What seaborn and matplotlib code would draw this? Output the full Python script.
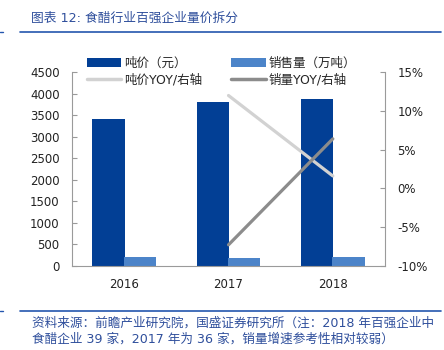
import numpy as np
import pandas as pd
import matplotlib
matplotlib.use("Agg")
import matplotlib.pyplot as plt
import seaborn as sns
from matplotlib.lines import Line2D
from matplotlib.patches import Patch
from matplotlib.ticker import FuncFormatter, FixedLocator

# ---------------- data ----------------
years = ["2016", "2017", "2018"]
price = [3413, 3802, 3872]          # 吨价（元）
volume = [197, 183, 194]            # 销售量（万吨）
price_yoy = [np.nan, 12.0, 1.6]     # 吨价YOY (%)
volume_yoy = [np.nan, -7.3, 6.4]    # 销量YOY (%)
left_ticks = [0, 500, 1000, 1500, 2000, 2500, 3000, 3500, 4000, 4500]
right_ticks = [-10, -5, 0, 5, 10, 15]
series_names = ["吨价（元）", "销售量（万吨）", "吨价YOY/右轴", "销量YOY/右轴"]
title_text = "图表 12: 食醋行业百强企业量价拆分"
source_lines = ["资料来源：前瞻产业研究院，国盛证券研究所（注：2018 年百强企业中",
                "食醋企业 39 家，2017 年为 36 家，销量增速参考性相对较弱）"]

# ---------------- style ----------------
c_price = "#023F95"
c_vol = "#4C84C9"
c_pyoy = "#D2D2D2"
c_vyoy = "#8C8C8C"
c_spine = "#9A9A9A"
c_blue_text = "#2F4F9C"
c_rule = "#2456AE"
fs = 8.5

sns.set_theme(style="white")
plt.rcParams["font.family"] = ["DejaVu Sans", "Noto Sans CJK SC"]

W, H = 444, 350
fig = plt.figure(figsize=(W / 100, H / 100), dpi=100)
x0, x1, ytop, ybot = 72, 385, 72.3, 265.7
ax = fig.add_axes([x0 / W, 1 - ybot / H, (x1 - x0) / W, (ybot - ytop) / H])

df = pd.DataFrame({
    "year": years * 2,
    "value": price + volume,
    "series": [series_names[0]] * len(years) + [series_names[1]] * len(years),
})
sns.barplot(data=df, x="year", y="value", hue="series",
            palette=[c_price, c_vol], width=0.6, saturation=1,
            ax=ax, legend=False, errorbar=None)
for p in ax.patches:
    p.set_x(p.get_x() - 0.006)
    p.set_width(p.get_width() + 0.012)
    p.set_linewidth(0)

ax.set_xlim(-0.5, len(years) - 0.5)
ax.set_ylim(left_ticks[0], left_ticks[-1])
ax.set_yticks(left_ticks)
ax.set_xlabel("")
ax.set_ylabel("")
ax.xaxis.set_minor_locator(FixedLocator(np.arange(len(years) + 1) - 0.5))
ax.tick_params(axis="x", which="major", length=0, pad=9, labelsize=fs, colors="#222222")
ax.tick_params(axis="x", which="minor", direction="in", length=3.5, width=0.8, color=c_spine)
ax.tick_params(axis="y", direction="in", length=3.5, width=0.8, color=c_spine,
               pad=9, labelsize=fs, labelcolor="#222222", left=True)
for s in ["top", "right"]:
    ax.spines[s].set_visible(False)
for s in ["left", "bottom"]:
    ax.spines[s].set_color(c_spine)
    ax.spines[s].set_linewidth(0.8)

# secondary axis with YOY lines
ax2 = ax.twinx()
xpos = np.arange(len(years))
sns.lineplot(x=xpos, y=price_yoy, ax=ax2, color=c_pyoy, linewidth=2.3)
sns.lineplot(x=xpos, y=volume_yoy, ax=ax2, color=c_vyoy, linewidth=2.3)
ax2.set_ylim(right_ticks[0], right_ticks[-1])
ax2.set_yticks(right_ticks)
ax2.yaxis.set_major_formatter(FuncFormatter(lambda v, _: f"{v:.0f}%"))
ax2.tick_params(axis="y", direction="in", length=3.5, width=0.8, color=c_spine,
                pad=9, labelsize=fs, labelcolor="#222222", right=True)
ax2.set_ylabel("")
for s in ["top", "left", "bottom"]:
    ax2.spines[s].set_visible(False)
ax2.spines["right"].set_color(c_spine)
ax2.spines["right"].set_linewidth(0.8)
ax2.set_xlim(-0.5, len(years) - 0.5)

# legend (column-wise fill -> order so rows read correctly)
handles = [Patch(facecolor=c_price, edgecolor="none"),
           Line2D([], [], color=c_pyoy, linewidth=2.5),
           Patch(facecolor=c_vol, edgecolor="none"),
           Line2D([], [], color=c_vyoy, linewidth=2.5)]
labels = [series_names[0], series_names[2], series_names[1], series_names[3]]
fig.legend(handles, labels, ncol=2, loc="upper left",
           bbox_to_anchor=(87 / W, 1 - 57 / H), frameon=False,
           fontsize=9, handlelength=2.75, handleheight=0.7, handletextpad=0.25,
           columnspacing=2.3, labelspacing=0.3, borderpad=0, borderaxespad=0)

# title and rules
fig.text(31 / W, 1 - 18.3 / H, title_text, fontsize=9.2, color=c_blue_text,
         va="center", ha="left")
for yy in (32.3, 310.7):
    fig.add_artist(Line2D([20 / W, 441 / W], [1 - yy / H] * 2, transform=fig.transFigure,
                          color=c_rule, linewidth=1.2))
    fig.add_artist(Line2D([0, 3 / W], [1 - yy / H] * 2, transform=fig.transFigure,
                          color=c_rule, linewidth=1.0))
fig.text(32 / W, 1 - 323.3 / H, source_lines[0], fontsize=9.1, color=c_blue_text,
         va="center", ha="left")
fig.text(32 / W, 1 - 339.3 / H, source_lines[1], fontsize=9.1, color=c_blue_text,
         va="center", ha="left")

fig.savefig("out.png", dpi=100)
